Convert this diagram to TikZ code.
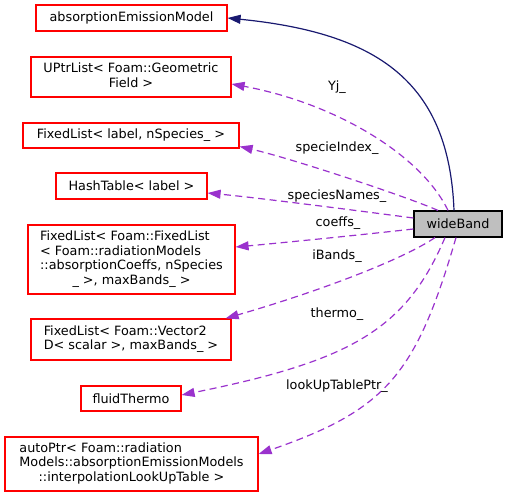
\documentclass[tikz,border=0pt]{standalone}
\usepackage{fontspec}
\setmainfont{DejaVu Sans}
\usetikzlibrary{arrows.meta}
\definecolor{edgepurple}{HTML}{9A32CD}
\definecolor{edgenavy}{HTML}{191970}
\definecolor{boxred}{HTML}{FF0000}
\definecolor{fillgray}{HTML}{BFBFBF}
\begin{document}
\begin{tikzpicture}[x=1pt,y=-1pt,
  every node/.style={font=\fontsize{12.8}{14.7}\selectfont, inner sep=0pt},
  cls/.style={draw=boxred, line width=1.2pt, fill=white},
  mainbox/.style={draw=black, line width=1.2pt, fill=fillgray},
  member/.style={draw=edgepurple, line width=1.2pt, dash pattern=on 7pt off 4.5pt,
    -{Triangle[length=13pt,width=9pt]}},
  inherit/.style={draw=edgenavy, line width=1.2pt, -{Triangle[length=13pt,width=9pt]}},
  lbl/.style={text=black}]
\useasboundingbox (0,0) rectangle (507,497);

\node[cls, minimum width=191pt, minimum height=26pt] (n1) at (131.5,18) {absorptionEmissionModel};
\node[cls, minimum width=200pt, minimum height=40pt] (n2) at (131,77)
  {\begin{tabular}{@{}c@{}}UPtrList< Foam::Geometric\\Field >\end{tabular}};
\node[cls, minimum width=216pt, minimum height=25pt] (n3) at (131,135.5) {FixedList< label, nSpecies\_ >};
\node[cls, minimum width=151pt, minimum height=26pt] (n4) at (131.5,186) {HashTable< label >};
\node[cls, minimum width=207pt, minimum height=69pt] (n5) at (131.5,259.5)
  {\begin{tabular}{@{}l@{}}FixedList< Foam::FixedList\\< Foam::radiationModels\\::absorptionCoeffs, nSpecies\\\multicolumn{1}{@{}c@{}}{\_ >, maxBands\_ >}\end{tabular}};
\node[cls, minimum width=200pt, minimum height=41pt] (n6) at (131,339.5)
  {\begin{tabular}{@{}l@{}}FixedList< Foam::Vector2\\D< scalar >, maxBands\_ >\end{tabular}};
\node[cls, minimum width=100pt, minimum height=25pt] (n7) at (131,398.5) {fluidThermo};
\node[cls, minimum width=253pt, minimum height=54pt] (n8) at (131.5,464)
  {\begin{tabular}{@{}l@{}}autoPtr< Foam::radiation\\Models::absorptionEmissionModels\\\multicolumn{1}{@{}c@{}}{::interpolationLookUpTable >}\end{tabular}};
\node[mainbox, minimum width=88pt, minimum height=26pt] (wb) at (458,224) {wideBand};

\draw[inherit] ([xshift=-4pt]wb.north) .. controls (449,81) and (377,33) .. (n1.east);
\draw[member] ([xshift=-10pt]wb.north) .. controls (420.7,154) and (334,103) .. ([yshift=-7pt]n2.east);
\draw[member] ([xshift=-20pt]wb.north) .. controls (405,196) and (290,158) .. ([yshift=-11pt]n3.east);
\draw[member] ([yshift=6pt]wb.west) .. controls (360,211) and (260,198) .. ([yshift=-7pt]n4.east);
\draw[member] ([yshift=-5pt]wb.west) .. controls (360,235) and (280,243) .. ([yshift=12.5pt]n5.east);
\draw[member] ([xshift=-23pt]wb.south) .. controls (402,260) and (317,292) .. ([xshift=-6pt]n6.north east);
\draw[member] ([xshift=-13pt]wb.south) .. controls (406,329) and (352,360.6) .. ([yshift=3.5pt]n7.east);
\draw[member] ([xshift=-2pt]wb.south) .. controls (416,375) and (386,410) .. ([yshift=10pt]n8.east);

\node[lbl] (lyj) at (337,87) {Yj\_};
\node[lbl] (lsi) at (337,148) {specieIndex\_};
\node[lbl] (lsn) at (337,196) {speciesNames\_};
\node[lbl] (lco) at (338,223) {coeffs\_};
\node[lbl] (lib) at (337,256) {iBands\_};
\node[lbl] (lth) at (337,314) {thermo\_};
\node[lbl] (llu) at (337,386) {lookUpTablePtr\_};
\end{tikzpicture}
\end{document}
